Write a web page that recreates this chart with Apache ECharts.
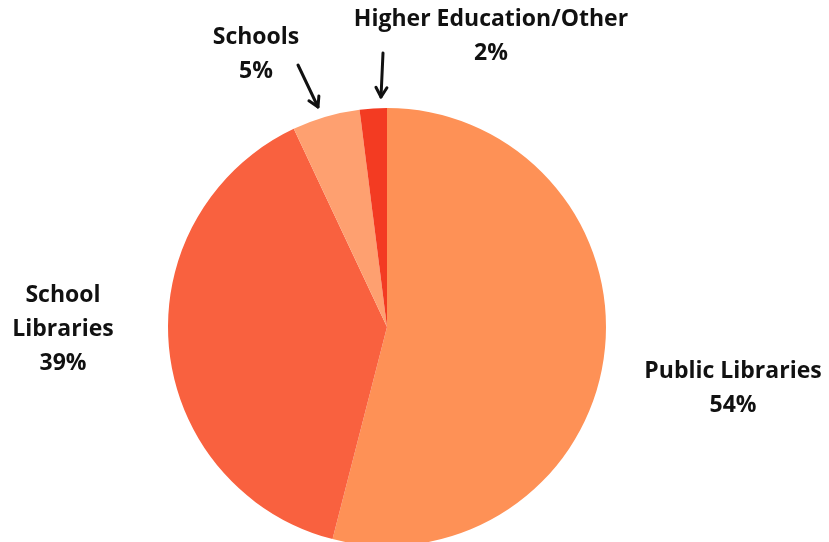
<!DOCTYPE html>
<html>
<head>
<meta charset="utf-8">
<script src="https://cdn.jsdelivr.net/npm/echarts@6/dist/echarts.min.js"></script>
<style>
  html, body { margin: 0; padding: 0; background: #fff; }
  #chart { width: 829px; height: 542px; }
</style>
</head>
<body>
<div id="chart"></div>
<script>
// Share of total by library / institution type (percent)
const categories = ['Public Libraries', 'School Libraries', 'Schools', 'Higher Education/Other'];
const shares = [54, 39, 5, 2];
const sliceColors = ['#FE9156', '#F9613F', '#FEA070', '#F33B22'];

// Where each label block sits (centre of the text block)
const labelSpots = [
  { x: 733, y: 388 },
  { x: 63, y: 329 },
  { x: 256, y: 54 },
  { x: 491, y: 36 }
];

// Pointer arrows for the two thin slices: [startX, startY, tipX, tipY]
const pointers = [
  [298, 65, 318, 107],
  [383, 53, 381, 97]
];

const fontFamily = '"Open Sans", Lato, sans-serif';

function arrowGraphic(p) {
  const [x1, y1, x2, y2] = p;
  const ang = Math.atan2(y2 - y1, x2 - x1);
  const len = 11, spread = Math.PI / 6;
  const a1 = [x2 - len * Math.cos(ang - spread), y2 - len * Math.sin(ang - spread)];
  const a2 = [x2 - len * Math.cos(ang + spread), y2 - len * Math.sin(ang + spread)];
  const style = { stroke: '#111', lineWidth: 3, lineCap: 'round', lineJoin: 'round', fill: null };
  return [
    { type: 'line', shape: { x1, y1, x2, y2 }, style },
    { type: 'polyline', shape: { points: [a1, [x2, y2], a2] }, style }
  ];
}

const chart = echarts.init(document.getElementById('chart'), null, { renderer: 'canvas' });

chart.setOption({
  animation: false,
  backgroundColor: '#ffffff',
  graphic: pointers.flatMap(arrowGraphic),
  series: [{
    type: 'pie',
    center: [387, 327],
    radius: 219,
    startAngle: 90,
    clockwise: true,
    avoidLabelOverlap: false,
    data: categories.map((name, i) => ({
      name,
      value: shares[i],
      itemStyle: { color: sliceColors[i] }
    })),
    label: {
      show: true,
      position: 'outside',
      formatter: p => (p.dataIndex === 1 ? p.name.replace(' ', '\n') : p.name) + '\n' + p.value + '%',
      color: '#111',
      fontFamily,
      fontWeight: 'bold',
      fontSize: 23,
      lineHeight: 34,
      align: 'center'
    },
    labelLine: { show: false },
    labelLayout: params => ({
      x: labelSpots[params.dataIndex].x,
      y: labelSpots[params.dataIndex].y,
      align: 'center',
      verticalAlign: 'middle'
    }),
    emphasis: { disabled: true }
  }]
});
</script>
</body>
</html>
